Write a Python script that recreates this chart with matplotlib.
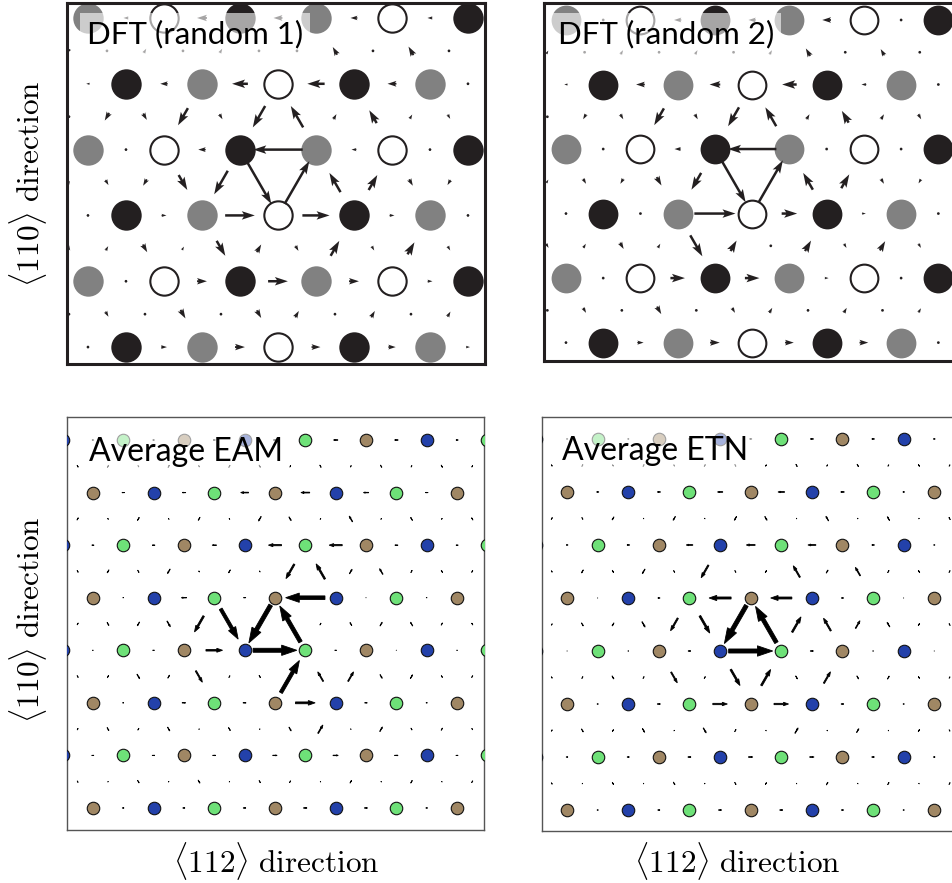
import numpy as np
import matplotlib.pyplot as plt

plt.rcParams['mathtext.fontset'] = 'cm'

W, H = 952, 883
S3 = np.sqrt(3) / 2

# ---------------- data ----------------
# horizontal bond values per row (+ = points right), diagonal bond values per
# row gap (+ = points up)
dft1_h = [[-0.10, -0.20, -0.18, -0.14, -0.10],
          [-0.07, -0.15, -0.32, -0.35, -0.18, -0.03],
          [0.03, -0.15, -1.00, -0.10, 0.03],
          [0.03, 0.10, 0.60, 0.55, 0.10, 0.03],
          [0.03, 0.20, 0.40, 0.20, 0.10],
          [0.06, 0.12, 0.20, 0.18, 0.15, 0.08]]
dft1_d = [[-0.08, 0.03, 0.10, 0.03, 0.10, 0.03, 0.03, 0.18, 0.03, 0.20, 0.03, 0.03],
          [0.03, -0.18, -0.15, -0.40, -0.12, -0.50, 0.50, 0.12, 0.30, 0.10, -0.10, 0.03],
          [0.08, -0.12, -0.15, -0.35, -0.55, -1.00, 1.00, 0.45, 0.35, -0.15, -0.12, 0.03],
          [-0.10, 0.10, -0.18, 0.08, -0.35, 0.18, -0.12, 0.35, -0.10, 0.28, -0.10, 0.03],
          [0.03, -0.12, 0.03, -0.20, 0.03, -0.18, 0.15, 0.03, 0.15, 0.03, 0.12, 0.03]]

dft2_h = [[-0.05, -0.15, -0.15, -0.18, -0.06],
          [-0.07, -0.18, -0.22, -0.30, -0.10, -0.05],
          [0.03, -0.13, -1.00, -0.05, -0.04],
          [0.03, 0.05, 0.85, 0.32, 0.08, 0.03],
          [0.05, 0.30, 0.30, 0.08, 0.05],
          [0.05, 0.13, 0.20, 0.18, 0.18, 0.04]]
dft2_d = [[0.08, 0.03, 0.10, 0.03, 0.10, 0.03, 0.10, 0.18, 0.03, 0.15, 0.03, 0.03],
          [0.03, -0.12, -0.12, -0.40, -0.12, -0.45, 0.45, 0.12, 0.28, 0.12, -0.12, 0.03],
          [0.08, -0.12, -0.12, -0.20, -0.40, -1.00, 1.00, 0.40, 0.33, -0.12, -0.10, 0.03],
          [-0.10, 0.10, -0.15, 0.10, -0.50, 0.25, 0.03, 0.25, -0.10, 0.22, -0.10, 0.03],
          [0.03, -0.12, 0.03, -0.18, 0.03, -0.12, 0.12, 0.03, 0.12, 0.03, 0.10, 0.03]]

eam_h = [[-0.04, -0.04, -0.05, -0.08, -0.10, -0.08, -0.05],
         [-0.06, -0.08, -0.18, -0.20, -0.12, -0.06],
         [-0.05, -0.06, -0.10, -0.30, -0.30, -0.07, -0.05],
         [0.02, -0.12, -0.05, -0.90, 0.01, 0.02],
         [0.02, 0.04, 0.38, 1.00, 0.04, 0.01, 0.02],
         [0.03, 0.08, 0.07, 0.45, 0.06, 0.03],
         [0.05, 0.06, 0.07, 0.10, 0.12, 0.08, 0.05],
         [0.04, 0.05, 0.06, 0.08, 0.07, 0.04]]
eam_d = [[-0.05, 0.06, -0.04, 0.06, -0.04, 0.06, -0.06, 0.05, -0.06, 0.04, -0.06, 0.04, -0.06, 0.04],
         [0.06, 0.03, 0.08, 0.03, -0.08, 0.03, -0.12, -0.10, 0.03, 0.15, 0.03, 0.08, 0.03, 0.06],
         [-0.05, -0.08, -0.06, -0.12, 0.03, -0.08, 0.03, -0.38, 0.40, 0.12, 0.15, 0.06, 0.06, 0.05],
         [-0.05, -0.08, -0.10, -0.15, -0.42, -0.80, -1.00, 0.95, 0.05, 0.08, 0.10, 0.10, 0.06, 0.05],
         [-0.05, 0.06, -0.12, 0.08, -0.30, 0.05, -0.06, 0.85, 0.25, 0.25, -0.10, 0.10, -0.05, 0.05],
         [0.04, -0.08, 0.05, -0.10, 0.02, -0.08, 0.02, -0.10, 0.22, 0.02, 0.12, -0.05, 0.06, -0.04],
         [-0.04, 0.02, -0.07, 0.02, -0.08, 0.02, -0.06, 0.05, 0.02, 0.07, 0.02, 0.07, 0.02, 0.05]]

etn_h = [[-0.03, -0.03, -0.04, -0.05, -0.07, -0.06, -0.04],
         [-0.05, -0.07, -0.12, -0.15, -0.08, -0.04],
         [-0.04, -0.06, -0.15, -0.20, -0.18, -0.06, -0.03],
         [0.01, -0.05, -0.50, -0.48, -0.05, 0.01],
         [0.01, 0.02, 0.06, 1.00, 0.07, 0.02, 0.01],
         [0.03, 0.07, 0.33, 0.33, 0.06, 0.03],
         [0.04, 0.05, 0.07, 0.10, 0.10, 0.06, 0.04],
         [0.03, 0.05, 0.07, 0.07, 0.05, 0.03]]
etn_d = [[-0.04, 0.05, -0.04, 0.05, -0.04, 0.05, -0.05, 0.04, -0.06, 0.04, -0.06, 0.04, -0.05, 0.04],
         [0.05, -0.05, -0.08, 0.02, -0.10, 0.02, -0.10, -0.10, 0.02, 0.12, 0.02, 0.10, 0.02, 0.06],
         [-0.04, -0.08, -0.06, -0.12, -0.05, -0.33, -0.05, 0.06, 0.30, 0.08, 0.22, 0.06, 0.06, 0.05],
         [-0.04, -0.08, -0.08, -0.14, -0.33, -0.45, -1.00, 0.95, 0.40, 0.33, 0.20, 0.12, 0.06, 0.05],
         [-0.04, 0.05, -0.08, 0.05, -0.28, 0.05, -0.42, 0.42, -0.08, 0.30, -0.08, 0.08, -0.05, 0.04],
         [0.04, -0.08, 0.05, -0.10, 0.02, -0.13, 0.06, 0.02, 0.14, 0.02, 0.10, 0.02, 0.06, -0.04],
         [-0.04, 0.02, -0.06, 0.02, -0.07, 0.02, -0.06, 0.05, 0.02, 0.07, 0.02, 0.06, 0.02, 0.05]]

# layer colour by column index mod 3
dft_layers = ['#818181', '#231f20', 'white']
avg_layers = ['#2341aa', '#a08764', '#6ee178']

titles = ['DFT (random 1)', 'DFT (random 2)', 'Average EAM', 'Average ETN']
label_110 = r'$\langle 110\rangle\ \mathrm{direction}$'
label_112 = r'$\langle 112\rangle\ \mathrm{direction}$'

INK = '#231f20'


def atoms(n_rows, i_lo, i_hi):
    pts = []
    for j in range(n_rows):
        for i in range(i_lo, i_hi + 1):
            if i % 2 == j % 2:
                pts.append((i, j))
    return pts


def bond_arrows(h_rows, d_rows, h_first, d_first):
    xs, ys, us, vs = [], [], [], []
    for j, row in enumerate(h_rows):
        i0 = h_first[j % 2]
        for n, val in enumerate(row):
            xs.append((i0 + 2 * n) / 2)
            ys.append(-j * S3)
            us.append(val)
            vs.append(0.0)
    for j, row in enumerate(d_rows):
        for n, val in enumerate(row):
            k = d_first + n
            i = int(round(k - 0.5))
            if i % 2 == j % 2:
                ux, uy = -0.5, S3
            else:
                ux, uy = 0.5, S3
            xs.append(k / 2)
            ys.append(-(j + 0.5) * S3)
            us.append(val * ux)
            vs.append(val * uy)
    return np.array(xs), np.array(ys), np.array(us), np.array(vs)


def px_axes(fig, x0, y0, w, h, xlim, ylim):
    ax = fig.add_axes([x0 / W, 1 - (y0 + h) / H, w / W, h / H])
    ax.set_xlim(*xlim)
    ax.set_ylim(*ylim)
    ax.set_xticks([])
    ax.set_yticks([])
    return ax


def title(ax, text, x, y, size):
    ax.text(x, y, text, transform=ax.transAxes, fontsize=size, va='baseline', ha='left',
            family=['Lato', 'DejaVu Sans'], zorder=10,
            bbox=dict(facecolor='white', alpha=0.6, edgecolor='none', pad=5))


def dft_panel(ax, h_rows, d_rows, a_px):
    for sp in ax.spines.values():
        sp.set_linewidth(2.2)
        sp.set_color(INK)
    pts = atoms(6, -1, 11)
    d_pt = 2 * 0.2 * a_px * 72 / 100
    for i, j in pts:
        c = dft_layers[i % 3]
        if c == 'white':
            ax.scatter(i / 2, -j * S3, s=(d_pt - 1.5) ** 2, facecolor='white',
                       edgecolor=INK, linewidth=1.5, zorder=2)
        else:
            ax.scatter(i / 2, -j * S3, s=d_pt ** 2, color=c, linewidth=0, zorder=2)
    X, Y, U, V = bond_arrows(h_rows, d_rows, (1, 0), -0.5)
    ax.quiver(X, Y, U, V, angles='xy', scale_units='xy', scale=1 / 0.65, pivot='middle',
              units='dots', width=2.5, headwidth=3.4, headlength=5.2, headaxislength=4.4,
              minlength=1.2, color=INK, zorder=3)


def avg_panel(ax, h_rows, d_rows, a_px):
    for sp in ax.spines.values():
        sp.set_linewidth(1.0)
        sp.set_color('#555555')
    pts = atoms(8, 0, 14)
    d_pt = 12.5 * 72 / 100
    for i, j in pts:
        ax.scatter(i / 2, -j * S3, s=d_pt ** 2, color=avg_layers[i % 3],
                   edgecolor='#111111', linewidth=0.8, zorder=3)
    X, Y, U, V = bond_arrows(h_rows, d_rows, (1, 2), 0.5)
    for x, y, u, v in zip(X, Y, U, V):
        mag = np.hypot(u, v)
        if mag < 1e-6:
            continue
        dx, dy = 0.72 * u, 0.72 * v
        ax.arrow(x - dx / 2, y - dy / 2, dx, dy, width=0.066 * mag,
                 head_width=0.17 * mag, head_length=0.25 * mag,
                 length_includes_head=True, fc='black', ec='black', lw=0.6, zorder=2)


fig = plt.figure(figsize=(W / 100, H / 100), dpi=100)

ax1 = px_axes(fig, 67, 3, 418, 361, (-0.276, 5.224), (-4.553, 0.197))
dft_panel(ax1, dft1_h, dft1_d, 76)
title(ax1, titles[0], 0.048, 0.889, 22.5)

ax2 = px_axes(fig, 544, 3, 410, 358, (-0.295, 5.21), (-4.577, 0.228))
dft_panel(ax2, dft2_h, dft2_d, 74.5)
title(ax2, titles[1], 0.034, 0.888, 22.5)

ax3 = px_axes(fig, 67, 417, 417, 413, (0.074, 6.944), (-6.425, 0.379))
avg_panel(ax3, eam_h, eam_d, 60.7)
title(ax3, titles[2], 0.053, 0.893, 23)

ax4 = px_axes(fig, 542, 417, 417, 414, (0.09, 6.904), (-6.405, 0.359))
avg_panel(ax4, etn_h, etn_d, 61.2)
title(ax4, titles[3], 0.048, 0.896, 23)

fig.text(28 / W, 1 - 184 / H, label_110, rotation=90, ha='center', va='center', fontsize=22.5)
fig.text(28 / W, 1 - 620 / H, label_110, rotation=90, ha='center', va='center', fontsize=22.5)
fig.text(276 / W, 1 - 861 / H, label_112, ha='center', va='center', fontsize=22.5)
fig.text(737 / W, 1 - 861 / H, label_112, ha='center', va='center', fontsize=22.5)

fig.savefig('out.png', dpi=100)
